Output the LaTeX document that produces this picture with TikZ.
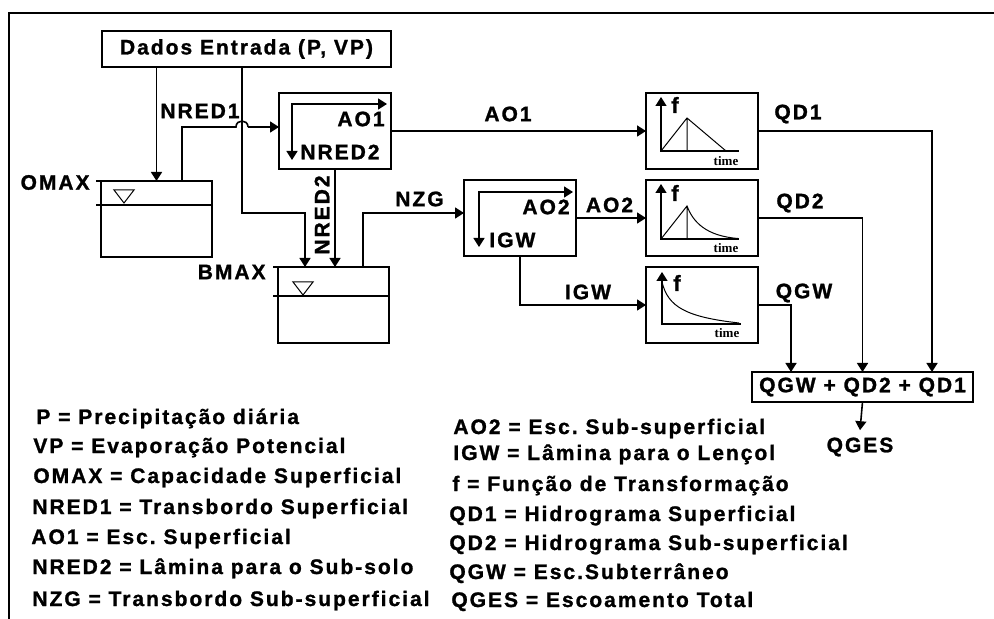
\documentclass[tikz,border=0pt]{standalone}
\usepackage{fontspec}
\setmainfont{Liberation Sans}[LetterSpace=9.5, BoldFeatures={FakeBold=1.2}]
\newfontfamily\timefont{Liberation Serif}
\usepackage{tikz}
\usetikzlibrary{arrows.meta,positioning,calc}
\frenchspacing
\tikzset{
  wire/.style={line width=0.8pt, draw=black},
  flow/.style={wire, -{Triangle[length=4.5pt,width=5.5pt]}},
  twoway/.style={wire, {Triangle[length=4.5pt,width=5.5pt]}-{Triangle[length=4.5pt,width=5.5pt]}},
  axis/.style={line width=0.7pt, {Triangle[length=4.5pt,width=5.5pt]}-},
  curve/.style={line width=0.5pt},
  frame/.style={line width=1.3pt},
  lbl/.style={inner sep=0pt, font=\fontsize{10.5}{12}\selectfont\bfseries},
  legend/.style={lbl, anchor=base west},
  inbox/.style={draw, line width=0.8pt, lbl, minimum width=144.5pt, minimum height=18pt, outer sep=0pt},
  tank/.style={draw, line width=0.8pt, minimum width=55.5pt, minimum height=38pt, inner sep=0pt, outer sep=0pt},
  splitbox/.style={tank, minimum width=56pt},
  funbox/.style={tank, minimum width=56pt},
  sumbox/.style={inbox, minimum width=110.5pt, minimum height=15pt},
  flbl/.style={inner sep=0pt, font=\fontsize{11}{12}\selectfont\bfseries},
  tlbl/.style={inner sep=0pt, font=\timefont\fontsize{6.5}{7}\selectfont\bfseries},
}

\begin{document}
\begin{tikzpicture}[x=0.5pt,y=-0.5pt]
  \useasboundingbox (0,0) rectangle (994,619);
  \draw[frame] (994,13) -- (9,13) -- (9,619);

  \node[inbox] (dados) at (246.5,49) {Dados Entrada (P, VP)};
  \node[tank] (omax) at (156.5,219) {};
  \node[tank] (bmax) at (333.5,305) {};
  \node[splitbox] (split1) at (335,131) {};
  \node[splitbox] (split2) at (520,218) {};
  \node[funbox] (f1) at (702,131) {};
  \node[funbox] (f2) at (702,218) {};
  \node[funbox] (f3) at (702,305) {};
  \node[sumbox] (sum) at (862.5,387) {QGW + QD2 + QD1};
  \node[lbl, inner sep=3.5pt] (qges) at (860,447) {QGES};

  \node[lbl, anchor=east] at (90,182.5) {OMAX};
  \node[lbl, anchor=east] at (266,272) {BMAX};
  \node[lbl] at (200,111) {NRED1};
  \node[lbl, rotate=90] at (322,215) {NRED2};
  \node[lbl] at (419.5,199) {NZG};
  \node[lbl] at (508,114) {AO1};
  \node[lbl] at (609.5,205) {AO2};
  \node[lbl] at (588,292) {IGW};
  \node[lbl] at (798,114) {QD1};
  \node[lbl] at (800,203) {QD2};
  \node[lbl] at (804,293) {QGW};

  \draw[wire] (omax.north west) -- ++(-5,0);
  \draw[wire] ($(omax.north west)+(-5,24)$) -- ($(omax.north east)+(0,24)$);
  \draw[curve] ($(omax.north west)+(13,9)$) -- ++(20,0) -- ++(-10,13) -- cycle;
  \draw[wire] (bmax.north west) -- ++(-5,0);
  \draw[wire] ($(bmax.north west)+(-5,29)$) -- ($(bmax.north east)+(0,29)$);
  \draw[curve] ($(bmax.north west)+(15,15)$) -- ++(20,0) -- ++(-10,13) -- cycle;

  \draw[twoway] ($(split1.north east)+(-4,11)$) -| ($(split1.south west)+(13,-9)$);
  \node[lbl, anchor=east] at ($(split1.north east)+(-6,26)$) {AO1};
  \node[lbl, anchor=west] at ($(split1.south west)+(21,-17)$) {NRED2};
  \draw[twoway] ($(split2.north east)+(-3,12)$) -| ($(split2.south west)+(15,-9)$);
  \node[lbl, anchor=east] at ($(split2.north east)+(-6,27)$) {AO2};
  \node[lbl, anchor=west] at ($(split2.south west)+(25,-16)$) {IGW};

  \begin{scope}[shift={(f1.north west)}]
    \draw[axis] (15,4) |- (93,58);
    \draw[curve] (15,58) -- (41,25) -- (80,58) (41,25) -- (41,58);
    \node[flbl] at (29,12) {f};
    \node[tlbl] at (80,68) {time};
  \end{scope}
  \begin{scope}[shift={(f2.north west)}]
    \draw[axis] (15,4) |- (93,59);
    \draw[curve] (15,59) -- (41,26) .. controls (47,42) and (60,56) .. (92,58.5) (41,26) -- (41,59);
    \node[flbl] at (29,13) {f};
    \node[tlbl] at (80,68) {time};
  \end{scope}
  \begin{scope}[shift={(f3.north west)}]
    \draw[axis] (16,5) |- (95,57);
    \draw[curve] (16,15) .. controls (22,40) and (40,50) .. (93,56);
    \node[flbl] at (31,16) {f};
    \node[tlbl] at (81,66) {time};
  \end{scope}

  \coordinate (ovf) at ($(omax.north east)+(-30,0)$);
  \coordinate (hopL) at (236,127);
  \coordinate (hopR) at (248,127);
  \draw[flow] (dados.south -| omax.north) -- (omax.north);
  \draw[wire] (ovf) |- (hopL) .. controls ($(hopL)+(0,-8)$) and ($(hopR)+(0,-8)$) .. (hopR);
  \draw[flow] (hopR) -- (split1.west |- hopR);
  \draw[flow] ($(dados.south)+(-4.5,0)$) |- ($(bmax.north west)+(27,-54)$) -- ($(bmax.north west)+(27,0)$);
  \draw[flow] (split1.south) -- (split1.south |- bmax.north);
  \draw[flow] ($(bmax.north east)+(-26,0)$) |- ($(split2.west)+(0,-5)$);
  \draw[flow] (split1.east) -- (f1.west);
  \draw[flow] (split2.east) -- (f2.west);
  \draw[flow] (split2.south) |- (f3.west);
  \draw[flow] (f1.east) -| ($(sum.north east)+(-41,0)$);
  \draw[flow] (f2.east) -| (sum.north);
  \draw[flow] (f3.east) -| ($(sum.north west)+(39,0)$);
  \draw[flow] (sum.south) -- (qges.north);

  \node[legend] (lp) at (36,424) {P = Precipitação diária};
  \node[legend] (lvp) at (33,453) {VP = Evaporação Potencial};
  \node[legend] (lomax) at (33,483) {OMAX = Capacidade Superficial};
  \node[legend] (lnred1) at (32,514) {NRED1 = Transbordo Superficial};
  \node[legend] (lao1) at (31,544) {AO1 = Esc. Superficial};
  \node[legend] (lnred2) at (32,574) {NRED2 = Lâmina para o Sub-solo};
  \node[legend] (lnzg) at (32,606) {NZG = Transbordo Sub-superficial};

  \node[legend] (lao2) at (453,434) {AO2 = Esc. Sub-superficial};
  \node[legend] (ligw) at (453,460) {IGW = Lâmina para o Lençol};
  \node[legend] (lf) at (452,491) {f = Função de Transformação};
  \node[legend] (lqd1) at (449,521) {QD1 = Hidrograma Superficial};
  \node[legend] (lqd2) at (449,550) {QD2 = Hidrograma Sub-superficial};
  \node[legend] (lqgw) at (449,579) {QGW = Esc.Subterrâneo};
  \node[legend] (lqges) at (451,607) {QGES = Escoamento Total};
\end{tikzpicture}
\end{document}
